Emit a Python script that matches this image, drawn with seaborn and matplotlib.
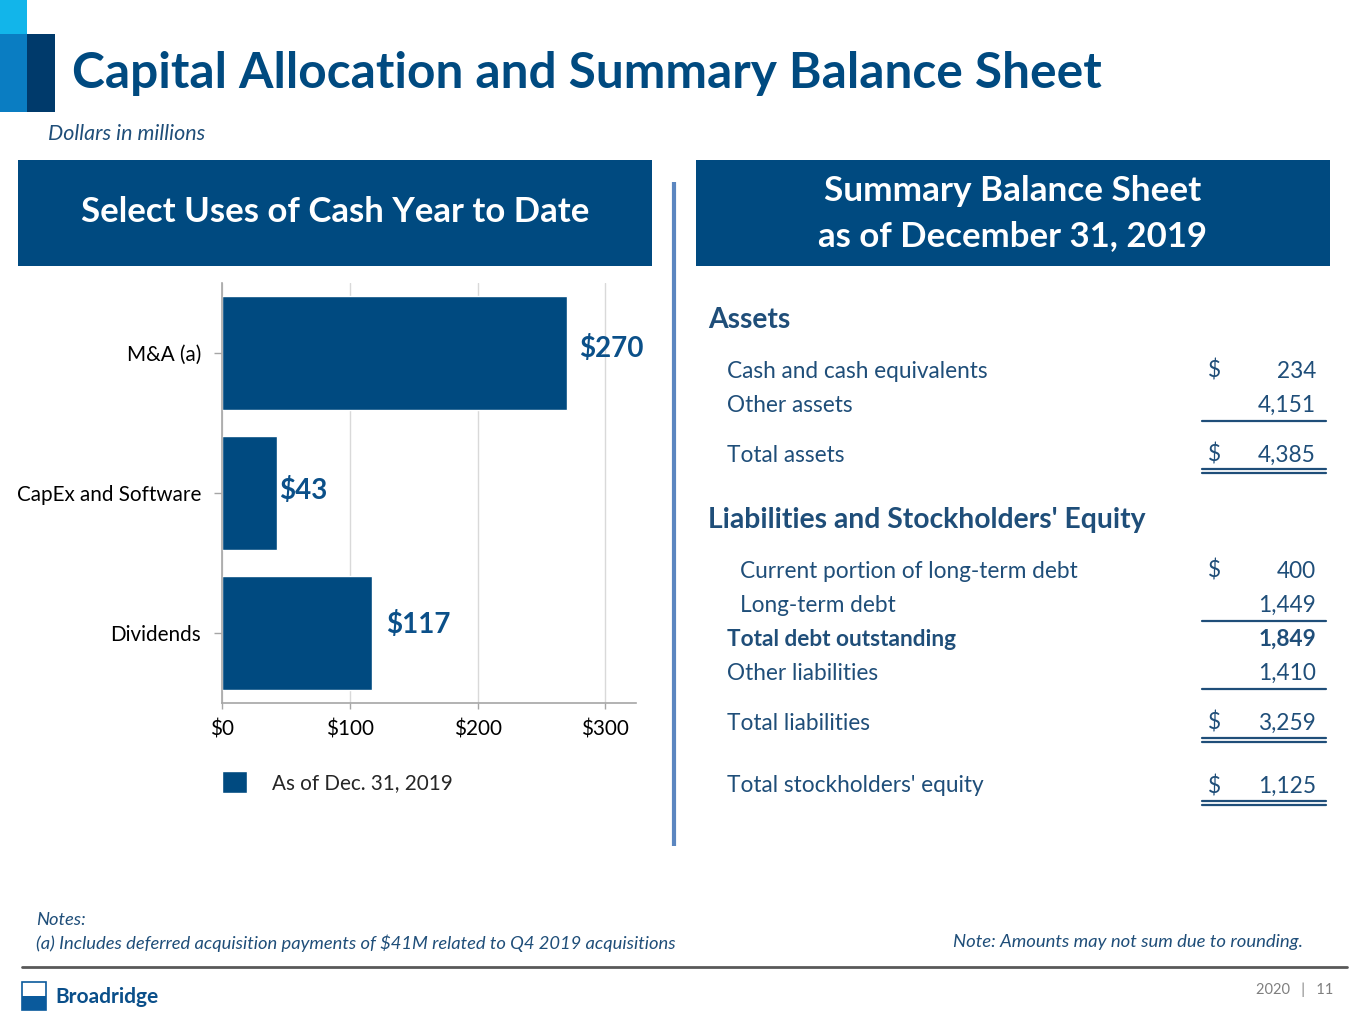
import matplotlib
matplotlib.use("Agg")
import matplotlib.pyplot as plt
from matplotlib.patches import Rectangle
import seaborn as sns

# chart data
categories = ["M&A (a)", "CapEx and Software", "Dividends"]
uses_of_cash = [270, 43, 117]
value_labels = ["$270", "$43", "$117"]
x_ticks = [0, 100, 200, 300]
x_tick_labels = ["$0", "$100", "$200", "$300"]
series_name = "As of Dec. 31, 2019"

# balance sheet rows
asset_items = ["Cash and cash equivalents", "Other assets"]
asset_values = ["234", "4,151"]
total_assets = "4,385"
debt_items = ["Current portion of long-term debt", "Long-term debt"]
debt_values = ["400", "1,449"]
total_debt = "1,849"
other_liab = "1,410"
total_liab = "3,259"
total_equity = "1,125"

NAVY = "#004a80"
TXT = "#1f4e79"

sns.set_theme(style="white")
plt.rcParams['font.family'] = ['Lato', 'DejaVu Sans']

W, H = 1365, 1024
fig = plt.figure(figsize=(W / 100, H / 100), dpi=100)
bg = fig.add_axes([0, 0, 1, 1])
bg.set_xlim(0, W)
bg.set_ylim(H, 0)
bg.axis("off")

# top-left logo blocks
bg.add_patch(Rectangle((0, 0), 27, 34, color="#12b5ea", lw=0))
bg.add_patch(Rectangle((0, 34), 27, 78, color="#0a7dc2", lw=0))
bg.add_patch(Rectangle((27, 34), 28, 78, color="#003a6b", lw=0))

bg.text(72, 74, "Capital Allocation and Summary Balance Sheet", fontsize=35.7,
        fontweight="bold", color=NAVY, va="center", ha="left")
bg.text(48, 134, "Dollars in millions", fontsize=15.5, style="italic",
        color=TXT, va="center")

# header boxes
bg.add_patch(Rectangle((18, 160), 634, 106, color=NAVY, lw=0))
bg.add_patch(Rectangle((696, 160), 634, 106, color=NAVY, lw=0))
bg.text(335, 212, "Select Uses of Cash Year to Date", fontsize=25,
        fontweight="bold", color="white", ha="center", va="center")
bg.text(1013, 191, "Summary Balance Sheet", fontsize=25.3,
        fontweight="bold", color="white", ha="center", va="center")
bg.text(1013, 236, "as of December 31, 2019", fontsize=25,
        fontweight="bold", color="white", ha="center", va="center")

# divider
bg.plot([674, 674], [182, 846], color="#5b86c0", lw=3, solid_capstyle="butt")

# balance sheet
fs = 16.3
xl, xi, xd, xv = 727, 740, 1208, 1316
ul0, ul1 = 1202, 1326


def row(y, label, val, x=xl, dollar=False, bold=False):
    w = "bold" if bold else "normal"
    bg.text(x, y, label, fontsize=fs, color=TXT, va="center", fontweight=w)
    bg.text(xv, y, val, fontsize=fs, color=TXT, va="center", ha="right", fontweight=w)
    if dollar:
        bg.text(xd, y, "$", fontsize=fs, color=TXT, va="center")


def single(y):
    bg.plot([ul0, ul1], [y, y], color=TXT, lw=1.6)


def double(y):
    bg.plot([ul0, ul1], [y, y], color=TXT, lw=1.6)
    bg.plot([ul0, ul1], [y + 4, y + 4], color=TXT, lw=1.6)


bg.text(708, 320, "Assets", fontsize=20.3, fontweight="bold", color=TXT, va="center")
row(371, asset_items[0], asset_values[0], dollar=True)
row(405, asset_items[1], asset_values[1])
single(421)
row(455, "Total assets", total_assets, dollar=True)
double(469)

bg.text(708, 520, "Liabilities and Stockholders' Equity", fontsize=20.3,
        fontweight="bold", color=TXT, va="center")
row(571, debt_items[0], debt_values[0], x=xi, dollar=True)
row(605, debt_items[1], debt_values[1], x=xi)
single(621)
row(639, "Total debt outstanding", total_debt, bold=True)
row(673, "Other liabilities", other_liab)
single(689)
row(723, "Total liabilities", total_liab, dollar=True)
double(738)
row(786, "Total stockholders' equity", total_equity, dollar=True)
double(801)

# notes / footer
bg.text(36, 920, "Notes:", fontsize=13.2, style="italic", color=TXT, va="center")
bg.text(36, 943, "(a) Includes deferred acquisition payments of $41M related to Q4 2019 acquisitions",
        fontsize=13.2, style="italic", color=TXT, va="center")
bg.text(1303, 942, "Note: Amounts may not sum due to rounding.", fontsize=13.3,
        style="italic", color=TXT, va="center", ha="right")
bg.plot([22, 1347], [967, 967], color="#595959", lw=2)
bg.text(1333, 990, "2020   |   11", fontsize=10.5, color="#7f7f7f", va="center", ha="right")
bg.add_patch(Rectangle((22, 982), 24, 28, facecolor="white", edgecolor="#0a5a9c", lw=1.2))
bg.add_patch(Rectangle((22, 996), 24, 14, color="#0a5a9c", lw=0))
bg.text(55, 997, "Broadridge", fontsize=15, fontweight="bold", color="#0a4f8a", va="center")

# bar chart
ax = fig.add_axes([222 / W, 1 - 703 / H, (636 - 222) / W, 420 / H])
sns.barplot(x=uses_of_cash, y=categories, orient="h", color=NAVY, saturation=1,
            width=0.81, ax=ax, label=series_name)
ax.set_xlim(0, 324)
ax.set_ylim(2.5, -0.5)
ax.set_xticks(x_ticks)
ax.set_xticklabels(x_tick_labels)
ax.xaxis.grid(True, color="#d9d9d9", lw=1)
ax.set_axisbelow(True)
for s in ["top", "right"]:
    ax.spines[s].set_visible(False)
for s in ["left", "bottom"]:
    ax.spines[s].set_color("#a6a6a6")
    ax.spines[s].set_linewidth(1.2)
ax.tick_params(axis="y", length=6, width=1, color="#a6a6a6", pad=9, labelsize=14.9, labelcolor="black")
ax.tick_params(axis="x", length=4, width=1, color="#a6a6a6", pad=8, labelsize=14.9, labelcolor="black")
ax.tick_params(left=True, bottom=True)
ax.set_xlabel("")
ax.set_ylabel("")

label_offsets = [(12, 5), (2, 2), (15, 8)]
for i, (v, t) in enumerate(zip(uses_of_cash, value_labels)):
    ax.annotate(t, xy=(v, i), xytext=label_offsets[i], textcoords="offset pixels",
                ha="left", va="center", fontsize=20, fontweight="bold", color="#0b5089")

ax.legend(loc="center left", bbox_to_anchor=(0, -0.188), frameon=False,
          borderaxespad=0, borderpad=0, handlelength=1.23, handleheight=1.23,
          handletextpad=1.2, fontsize=14.9)

fig.savefig("out.png", dpi=100)
